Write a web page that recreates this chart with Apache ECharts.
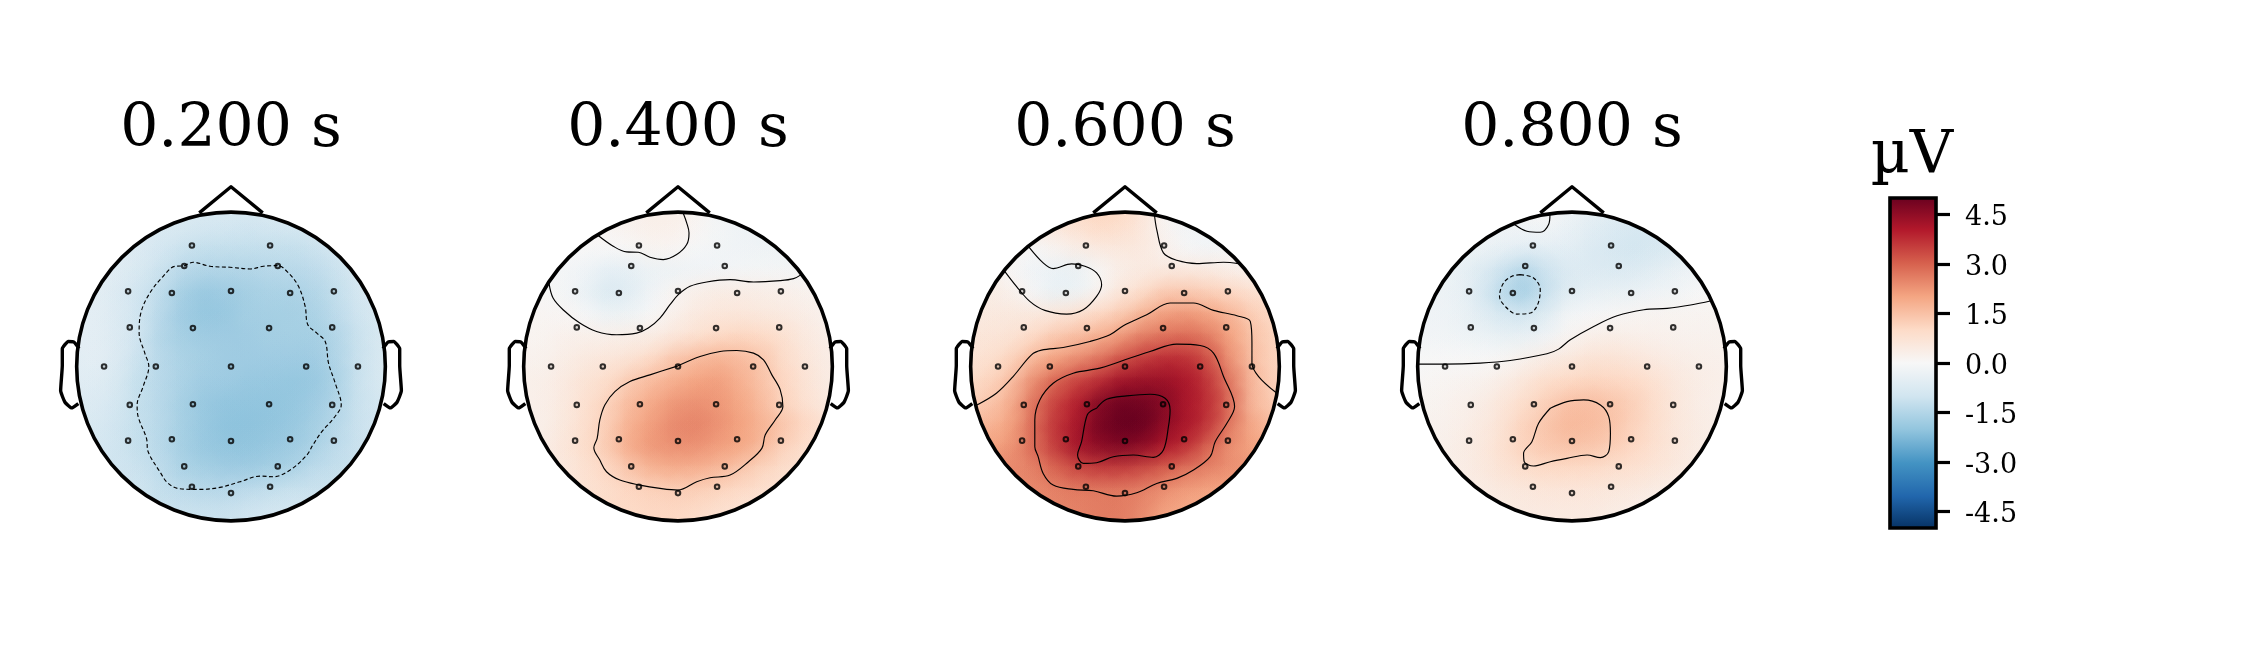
<!DOCTYPE html>
<html>
<head>
<meta charset="utf-8">
<style>html,body{margin:0;padding:0;background:#fff}#c{width:2250px;height:660px}</style>
<script src="https://cdn.jsdelivr.net/npm/echarts@6/dist/echarts.min.js"></script>
</head>
<body>
<div id="c"></div>
<script>
// Head coordinates: radius of the scalp circle = 462 units, origin at head centre.
const timeLabels = ['0.200 s', '0.400 s', '0.600 s', '0.800 s'];
const unitLabel = 'µV';
const colorbarTicks = [-4.5, -3, -1.5, 0, 1.5, 3, 4.5];
const colorStops = ['#053061','#2166ac','#4393c3','#92c5de','#d1e5f0','#f7f7f7','#fddbc7','#f4a582','#d6604d','#b2182b','#67001f'];

const sensors = [
[-117,362],[117,362],[-140,301],[140,301],[-308,225],[308,225],[-177,220],[177,220],[0,226],
[-303,117],[303,117],[-114,115],[114,115],[-380,0],[380,0],[-225,0],[225,0],[0,0],
[-303,-115],[303,-115],[-114,-113],[114,-113],[-308,-222],[308,-222],[-177,-218],[177,-218],[0,-223],
[-140,-299],[140,-299],[-117,-360],[117,-360],[0,-379]];

const noseX = [-95,0,95];
const noseY = [460,538,460];
const earRightX = [455,470,487,505,505,510,497,477,457];
const earY = [54,73,75,53,3,-72,-107,-124,-111];

// Field values in µV, read at rows y=+462..-462 and columns x=-462..462 (step 66)
const field200 = [
[-.8,-.8,-.8,-.8,-.8,-.8,-.8,-.8,-.8,-.8,-.8,-.8,-.8,-.8,-.8],
[-.7,-.7,-.7,-.7,-.8,-.8,-.9,-.9,-1,-.9,-.9,-.8,-.8,-.8,-.8],
[-.6,-.6,-.6,-.7,-.9,-1.1,-1.2,-1.2,-1.2,-1.2,-1.2,-1.1,-.9,-.8,-.8],
[-.5,-.5,-.6,-.8,-1.1,-1.4,-1.5,-1.5,-1.5,-1.4,-1.4,-1.3,-1.1,-.8,-.7],
[-.5,-.5,-.7,-1,-1.3,-1.7,-1.9,-1.8,-1.7,-1.6,-1.6,-1.5,-1.2,-.9,-.7],
[-.5,-.5,-.7,-1,-1.4,-1.8,-1.95,-1.9,-1.7,-1.7,-1.7,-1.6,-1.3,-1,-.8],
[-.5,-.5,-.7,-1,-1.5,-1.7,-1.8,-1.8,-1.8,-1.7,-1.7,-1.7,-1.5,-1.1,-.8],
[-.6,-.5,-.7,-1.1,-1.4,-1.6,-1.7,-1.8,-1.8,-1.8,-1.8,-1.8,-1.5,-1.1,-.8],
[-.6,-.6,-.8,-1.2,-1.4,-1.6,-1.8,-1.8,-1.9,-1.9,-1.95,-1.9,-1.6,-1.1,-.8],
[-.7,-.7,-.9,-1.2,-1.4,-1.7,-1.9,-2,-2,-2,-1.95,-1.8,-1.5,-1.1,-.9],
[-.8,-.8,-1,-1.2,-1.4,-1.7,-1.9,-2.05,-2.05,-2,-1.9,-1.7,-1.4,-1.1,-.9],
[-.9,-.9,-1,-1.2,-1.4,-1.7,-1.9,-2,-2,-1.9,-1.8,-1.6,-1.3,-1.1,-1],
[-1,-1,-1,-1.1,-1.3,-1.6,-1.7,-1.8,-1.8,-1.7,-1.6,-1.3,-1.2,-1.1,-1],
[-1,-1,-1,-1,-1.2,-1.3,-1.4,-1.4,-1.3,-1.2,-1.1,-1.1,-1.1,-1,-1],
[-1.1,-1.1,-1.1,-1.1,-1.1,-1.1,-1.1,-1.1,-1,-.9,-.9,-1,-1.1,-1.1,-1.1]];
const field400 = [
[.2,.2,.2,.2,.2,.2,.3,.3,.1,-.2,-.3,-.3,-.3,-.3,-.3],
[.1,.1,.1,.1,.1,.2,.3,.3,.1,-.1,-.2,-.3,-.3,-.3,-.3],
[0,0,0,0,0,.05,.15,.1,-.05,-.15,-.2,-.25,-.25,-.25,-.25],
[-.1,-.1,-.1,-.2,-.5,-.45,-.3,-.3,-.2,-.15,-.1,-.1,-.1,-.1,0],
[.05,.05,-.1,-.35,-.8,-.6,-.2,.1,.3,.4,.4,.35,.3,.2,.1],
[.1,.1,.1,-.05,-.3,-.25,0,.25,.5,.6,.6,.55,.45,.35,.2],
[.15,.15,.25,.3,.3,.35,.4,.6,.8,1,1.1,1,.8,.5,.3],
[.2,.2,.35,.5,.6,.7,.95,1.4,1.6,1.75,1.6,1.4,.9,.6,.35],
[.3,.3,.45,.7,.9,1.3,1.6,1.8,2,2.1,1.8,1.45,1.05,.7,.4],
[.3,.3,.5,.8,1.15,1.6,1.9,2.2,2.3,2.2,1.95,1.6,1.1,.75,.45],
[.3,.3,.55,.85,1.25,1.8,2.1,2.4,2.5,2.3,2.05,1.75,1.4,1.05,.7],
[.35,.35,.6,.9,1.3,1.9,2.2,2.3,2.3,2.1,1.95,1.65,1.15,.9,.6],
[.4,.4,.55,.8,1.05,1.4,1.75,1.85,1.8,1.65,1.4,1.1,.9,.7,.5],
[.5,.5,.6,.75,.9,1.05,1.15,1.2,1.2,1.1,.95,.85,.7,.5,.4],
[.9,.9,.9,.9,1,1,1.05,1.05,.95,.8,.7,.6,.5,.5,.5]];
const field600 = [
[.9,.9,.9,.9,.9,1,1.1,1,.6,0,-.2,-.2,-.2,-.2,-.2],
[.6,.6,.5,.5,.6,.8,1,.9,.6,.1,-.15,-.2,-.2,-.2,-.2],
[.3,.3,.15,-.05,.15,.35,.5,.55,.5,.25,-.05,-.15,-.1,-.1,-.1],
[.3,.3,0,-.2,-.35,-.4,.05,.35,.45,.5,.5,.45,.3,.2,.2],
[.4,.4,.3,-.05,-.4,-.3,.15,.6,.9,1.35,1.35,1.2,1.05,.8,.7],
[.5,.5,.55,.55,.6,.8,1.05,1.3,1.75,2.1,2.2,2,1.7,1.25,.95],
[.6,.65,.7,.95,1.35,1.55,1.8,2.15,2.6,2.75,2.85,2.6,2,1.45,1.1],
[.7,.8,1.1,1.65,2,2.3,2.65,3.2,3.5,3.75,3.7,3.2,2.2,1.5,1.1],
[.9,1.1,1.5,2.3,2.9,3.4,3.7,4.2,4.3,4.3,4.1,3.6,2.6,1.6,1.15],
[1.2,1.35,1.8,2.7,3.4,3.9,4.6,4.9,4.85,4.6,4.1,3.7,2.8,1.6,1.25],
[1.6,1.7,2,2.8,3.6,4.1,4.8,5,5,4.5,4.1,3.6,2.6,1.9,1.5],
[2,2,2.2,2.8,3.5,4.2,4.5,4.7,4.5,4.05,3.7,2.9,2.3,2,1.9],
[2.4,2.4,2.4,2.5,2.9,3.3,3.5,3.5,3.3,3,2.7,2.5,2.3,2.2,2.2],
[2.4,2.4,2.4,2.4,2.5,2.6,2.6,2.6,2.5,2.3,2.1,2,2,2,2],
[2.3,2.3,2.3,2.4,2.5,2.5,2.6,2.6,2.4,2,1.9,1.8,1.8,1.8,1.8]];
const field800 = [
[.1,.1,.1,.1,.1,.1,.05,-.2,-.4,-.5,-.6,-.6,-.6,-.6,-.6],
[-.1,-.1,-.1,-.15,-.2,-.2,-.1,-.35,-.55,-.7,-.85,-.85,-.7,-.5,-.5],
[-.3,-.3,-.3,-.3,-.4,-.5,-.5,-.5,-.7,-.85,-.95,-.85,-.7,-.4,-.3],
[-.3,-.3,-.35,-.65,-1.05,-1.5,-1.05,-.7,-.7,-.75,-.7,-.55,-.35,-.2,-.1],
[-.25,-.25,-.35,-.7,-1.35,-1.75,-1.15,-.6,-.45,-.4,-.35,-.2,-.15,0,.05],
[-.2,-.2,-.3,-.55,-.85,-.95,-.65,-.1,-.05,.05,.1,.15,.15,.15,.15],
[-.15,-.15,-.2,-.3,-.4,-.4,-.2,.1,.3,.35,.3,.25,.2,.2,.2],
[0,0,0,0,.05,.2,.4,.55,.7,.7,.6,.45,.35,.3,.25],
[.05,.1,.15,.2,.35,.6,.9,1,1.1,1.05,.95,.75,.5,.35,.3],
[.15,.15,.25,.35,.6,.9,1.2,1.5,1.55,1.4,1.2,.85,.55,.35,.25],
[.2,.2,.3,.45,.7,1.15,1.4,1.65,1.6,1.45,1.15,.85,.55,.4,.3],
[.2,.25,.35,.5,.8,1.15,1.35,1.45,1.4,1.25,1.05,.8,.55,.4,.3],
[.25,.25,.35,.5,.7,.9,1,1,.95,.85,.8,.65,.5,.35,.25],
[.25,.25,.3,.4,.5,.55,.6,.6,.6,.55,.5,.4,.3,.25,.25],
[.25,.25,.3,.35,.4,.45,.45,.45,.45,.4,.3,.25,.2,.2,.2]];

// Contours: {neg: dashed, pts: [x,y,...]}
const contours200 = [
{neg:1, pts:[[-140,301],[-113,312],[-63,300],[-3,297],[57,292],[97,300],[140,302],[172,280],[202,240],[222,180],[230,125],[257,100],[282,75],[292,10],[312,-50],[330,-115],[307,-155],[272,-195],[245,-235],[227,-265],[177,-310],[127,-330],[87,-328],[27,-345],[-33,-362],[-93,-368],[-153,-366],[-188,-350],[-213,-315],[-248,-255],[-253,-215],[-278,-150],[-281,-115],[-263,-60],[-246,0],[-258,40],[-275,100],[-270,160],[-243,220],[-203,270],[-168,300],[-140,301]]}];
const contours400 = [
{neg:0, pts:[[-239,392],[-194,360],[-154,343],[-119,342],[-84,327],[-44,320],[-4,335],[26,365],[33,400],[26,430],[16,458]]},
{neg:0, pts:[[-386,248],[-374,205],[-344,170],[-294,130],[-244,105],[-184,95],[-124,100],[-89,115],[-54,145],[-24,185],[1,215],[36,240],[86,253],[156,260],[226,253],[306,257],[346,263],[369,275]]},
{neg:0, pts:[[0,2],[66,30],[126,45],[176,48],[226,40],[256,20],[281,-25],[306,-70],[314,-120],[291,-160],[261,-205],[251,-245],[211,-285],[156,-325],[96,-333],[56,-345],[0,-370],[-54,-365],[-114,-355],[-174,-340],[-214,-315],[-234,-280],[-252,-243],[-242,-215],[-234,-160],[-219,-115],[-189,-75],[-144,-45],[-84,-25],[0,2]]}];
const contours600 = [
{neg:0, pts:[[-360,285],[-325,240],[-285,195],[-240,168],[-175,157],[-125,170],[-85,210],[-70,245],[-85,280],[-120,300],[-160,307],[-215,293],[-245,310],[-288,358]]},
{neg:0, pts:[[88,455],[95,410],[115,340],[155,318],[215,308],[295,312],[340,308]]},
{neg:0, pts:[[-443,-115],[-385,-80],[-335,-30],[-280,35],[-250,49],[-185,57],[-105,75],[-45,95],[-5,122],[65,155],[135,190],[205,190],[265,168],[335,152],[375,135],[380,70],[380,10],[400,-30],[452,-78]]},
{neg:0, pts:[[0,20],[75,45],[155,67],[225,63],[265,40],[295,-30],[328,-120],[305,-170],[270,-225],[255,-270],[205,-310],[155,-335],[95,-350],[35,-378],[-25,-388],[-95,-372],[-155,-368],[-215,-355],[-245,-320],[-260,-270],[-270,-240],[-270,-160],[-255,-100],[-215,-50],[-155,-20],[-75,-5],[0,20]]},
{neg:0, pts:[[-85,-125],[-55,-98],[5,-88],[75,-83],[120,-95],[135,-130],[130,-180],[115,-250],[85,-272],[25,-265],[-35,-270],[-85,-288],[-125,-290],[-142,-265],[-130,-225],[-120,-170],[-110,-140],[-85,-125]]}];
const contours800 = [
{neg:0, pts:[[-172,425],[-135,405],[-95,402],[-70,425],[-66,455]]},
{neg:0, pts:[[-458,7],[-380,7],[-275,10],[-185,18],[-75,38],[-40,52],[-5,80],[65,120],[135,152],[215,170],[285,174],[355,184],[417,197]]},
{neg:1, pts:[[-155,275],[-115,265],[-95,230],[-103,185],[-125,160],[-165,157],[-200,180],[-217,210],[-205,250],[-180,270],[-155,275]]},
{neg:0, pts:[[-65,-125],[-15,-105],[35,-100],[85,-115],[110,-150],[115,-200],[110,-255],[85,-273],[45,-265],[-15,-275],[-65,-285],[-115,-298],[-143,-285],[-145,-260],[-120,-225],[-100,-170],[-65,-125]]}];

const fields = [field200, field400, field600, field800];
const contourSets = [contours200, contours400, contours600, contours800];

const panelCentres = [231, 678, 1125, 1572];
const headTop = 366.5, halfPx = 185.4, axisExtent = 555, headR = 462, cellStep = 66, vmax = 5;
const FONT = '"DejaVu Serif"';

function hexRgb(h){return [1,3,5].map(i=>parseInt(h.substr(i,2),16));}
const stopRgb = colorStops.map(hexRgb);
function rgbOf(v){
  let t=(v+vmax)/(2*vmax)*(stopRgb.length-1); t=Math.max(0,Math.min(stopRgb.length-1,t));
  const i=Math.min(stopRgb.length-2,Math.floor(t)), f=t-i;
  return stopRgb[i].map((c,n)=>Math.round(c+(stopRgb[i+1][n]-c)*f));
}
function cellData(field){
  const out=[];
  field.forEach((row,r)=>row.forEach((v,c)=>out.push([(c-7)*cellStep,(7-r)*cellStep,v])));
  return out;
}
function clipFor(api){
  const o=api.coord([0,0]), rp=api.size([headR,0])[0];
  return {type:'circle',shape:{cx:o[0],cy:o[1],r:rp}};
}
function renderCell(params,api){
  const p=api.coord([api.value(0),api.value(1)]), s=api.size([cellStep,cellStep]);
  const c=rgbOf(api.value(2));
  return {type:'rect',shape:{x:p[0]-s[0]/2,y:p[1]-s[1]/2,width:s[0]+1,height:s[1]+1},
    style:{fill:`rgb(${c})`},clipPath:clipFor(api),silent:true};
}
function renderSoft(params,api){
  const p=api.coord([api.value(0),api.value(1)]), s=api.size([cellStep,cellStep]);
  const c=rgbOf(api.value(2)), R=s[0]*1.7;
  return {type:'rect',shape:{x:p[0]-R,y:p[1]-R,width:2*R,height:2*R},
    style:{fill:new echarts.graphic.RadialGradient(0.5,0.5,0.5,[
      {offset:0,color:`rgba(${c},0.95)`},{offset:0.35,color:`rgba(${c},0.6)`},
      {offset:0.7,color:`rgba(${c},0.15)`},{offset:1,color:`rgba(${c},0)`}])},
    clipPath:clipFor(api),silent:true};
}
function renderHead(params,api){
  const o=api.coord([0,0]), rp=api.size([headR,0])[0];
  return {type:'circle',shape:{cx:o[0],cy:o[1],r:rp},style:{fill:'none',stroke:'#000',lineWidth:3.6},silent:true};
}
const grids=[],xAxes=[],yAxes=[],series=[],titles=[];
panelCentres.forEach((cx,i)=>{
  grids.push({left:cx-halfPx,top:headTop-halfPx,width:2*halfPx,height:2*halfPx,containLabel:false});
  xAxes.push({type:'value',gridIndex:i,min:-axisExtent,max:axisExtent,show:false});
  yAxes.push({type:'value',gridIndex:i,min:-axisExtent,max:axisExtent,show:false});
  titles.push({text:timeLabels[i],left:cx-5,top:95,textAlign:'center',
    textStyle:{fontFamily:FONT,fontSize:60,fontWeight:'normal',color:'#000'}});
  const base={xAxisIndex:i,yAxisIndex:i,silent:true,animation:false};
  const d=cellData(fields[i]);
  series.push({...base,type:'custom',data:d,renderItem:renderCell,clip:false,z:1,encode:{x:0,y:1}});
  series.push({...base,type:'custom',data:d,renderItem:renderSoft,clip:false,z:2,encode:{x:0,y:1}});
  contourSets[i].forEach(ct=>series.push({...base,type:'line',data:ct.pts,smooth:0.35,showSymbol:false,clip:false,z:3,
    lineStyle:{color:'#000',width:1.15,type:ct.neg?[4,2.5]:'solid'}}));
  series.push({...base,type:'scatter',data:sensors,symbol:'circle',symbolSize:4.6,clip:false,z:4,
    itemStyle:{color:'rgba(0,0,0,0.15)',borderColor:'#000',borderWidth:2}});
  const lineStyle={color:'#000',width:3.4,join:'round'};
  series.push({...base,type:'line',data:noseX.map((x,k)=>[x,noseY[k]]),showSymbol:false,clip:false,z:5,lineStyle});
  series.push({...base,type:'line',data:earRightX.map((x,k)=>[x,earY[k]]),smooth:0.15,showSymbol:false,clip:false,z:5,lineStyle});
  series.push({...base,type:'line',data:earRightX.map((x,k)=>[-x,earY[k]]),smooth:0.15,showSymbol:false,clip:false,z:5,lineStyle});
  series.push({...base,type:'custom',data:[[0,0]],renderItem:renderHead,clip:false,z:6,encode:{x:0,y:1}});
});
// Colour bar
const cbIdx=panelCentres.length;
grids.push({left:1890,top:198,width:46,height:330});
xAxes.push({type:'value',gridIndex:cbIdx,min:0,max:1,show:false});
yAxes.push({type:'value',gridIndex:cbIdx,min:-vmax,max:vmax,position:'right',splitLine:{show:false},
  axisLine:{show:true,onZero:false,lineStyle:{color:'#000',width:1}},
  axisTick:{show:true,length:14,inside:false,lineStyle:{color:'#000',width:3.2},customValues:colorbarTicks},
  axisLabel:{show:true,customValues:colorbarTicks,margin:29,align:'left',
    formatter:v=>'{t|'+Number(v).toFixed(1)+'}',
    rich:{t:{fontFamily:FONT,fontSize:27,color:'#000',padding:[7,0,0,0]}}}});
series.push({type:'custom',xAxisIndex:cbIdx,yAxisIndex:cbIdx,silent:true,animation:false,data:[[0,-vmax,1,vmax]],z:3,
  encode:{x:[0,2],y:[1,3]},
  renderItem(params,api){
    const a=api.coord([0,vmax]), b=api.coord([1,-vmax]);
    const stops=colorStops.map((c,k)=>({offset:1-k/(colorStops.length-1),color:c})).reverse();
    return {type:'rect',shape:{x:a[0],y:a[1],width:b[0]-a[0],height:b[1]-a[1]},
      style:{fill:new echarts.graphic.LinearGradient(0,0,0,1,stops),stroke:'#000',lineWidth:3.6},silent:true};
  }});
titles.push({text:unitLabel,left:1907,top:122,textAlign:'center',
  textStyle:{fontFamily:FONT,fontSize:60,fontWeight:'normal',color:'#000'}});

const chart=echarts.init(document.getElementById('c'),null,{renderer:'canvas'});
chart.setOption({animation:false,backgroundColor:'#fff',title:titles,grid:grids,xAxis:xAxes,yAxis:yAxes,series});
</script>
</body>
</html>
